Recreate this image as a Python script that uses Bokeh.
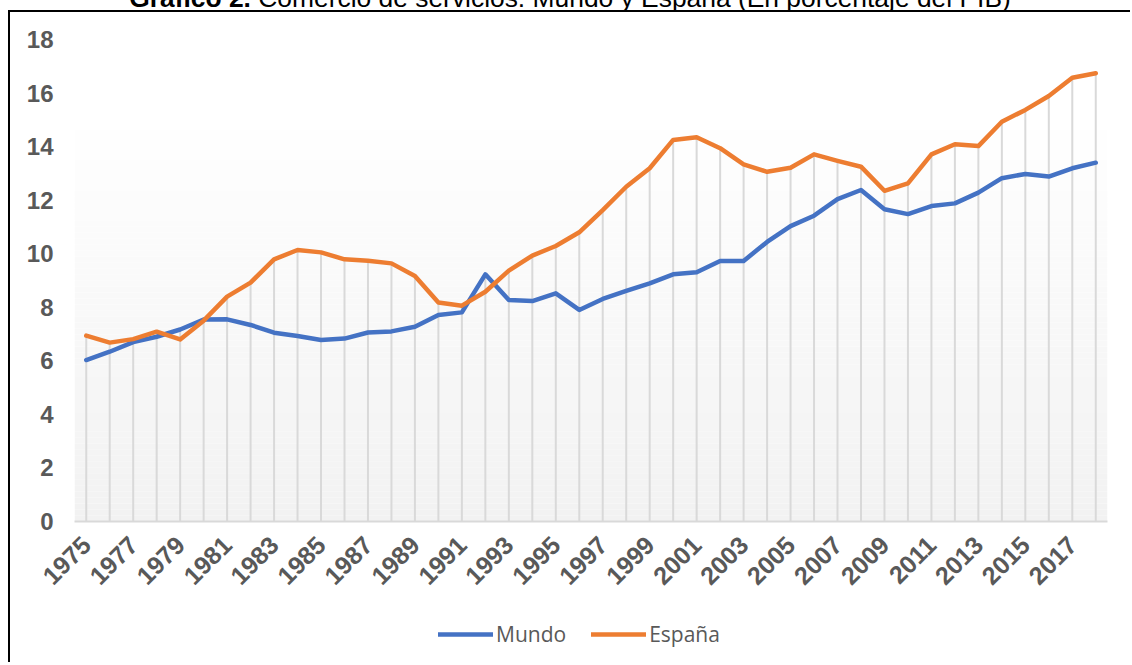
from bokeh.plotting import figure
from bokeh.models import Div, Legend, LegendItem, FixedTicker, Range1d
from bokeh.layouts import column
from bokeh.embed import file_html
from bokeh.resources import INLINE

years = list(range(1975, 2019))
mundo = [6.03, 6.34, 6.70, 6.90, 7.17, 7.54, 7.55, 7.34, 7.05, 6.93,
         6.78, 6.83, 7.06, 7.10, 7.27, 7.71, 7.81, 9.23, 8.27, 8.23,
         8.52, 7.90, 8.31, 8.61, 8.89, 9.23, 9.31, 9.73, 9.73, 10.44,
         11.03, 11.42, 12.04, 12.38, 11.66, 11.48, 11.78, 11.88, 12.28, 12.82,
         12.98, 12.88, 13.19, 13.40]
espana = [6.94, 6.68, 6.81, 7.09, 6.80, 7.50, 8.40, 8.92, 9.79, 10.14,
          10.05, 9.79, 9.74, 9.64, 9.17, 8.18, 8.06, 8.58, 9.37, 9.93,
          10.29, 10.80, 11.63, 12.50, 13.19, 14.25, 14.35, 13.94, 13.34, 13.06,
          13.21, 13.71, 13.47, 13.25, 12.35, 12.63, 13.71, 14.09, 14.02, 14.93,
          15.37, 15.89, 16.57, 16.74]
x_ticks = list(range(1975, 2019, 2))
y_ticks = list(range(0, 20, 2))
series_names = ["Mundo", "España"]
title_html = "<b>Gráfico 2.</b> Comercio de servicios. Mundo y España (En porcentaje del PIB)"

GREY = "#595959"
BLUE = "#4472C4"
ORANGE = "#ED7D31"
NAN = float("nan")

xmin, xmax = years[0] - 0.5, years[-1] + 0.5
ymin, ymax = 0, 18

p = figure(width=1122, height=594, output_backend="svg", toolbar_location=None,
           x_range=Range1d(xmin, xmax), y_range=Range1d(ymin, ymax),
           min_border_left=64, min_border_right=25, min_border_top=27,
           min_border_bottom=85)
p.styles = {"border-left": "2px solid black", "border-top": "2px solid black",
            "margin-left": "8px"}
p.background_fill_color = "white"
p.border_fill_color = "white"
p.outline_line_color = None
p.grid.visible = False

# gradient background (white at top -> light grey at bottom)
n = 80
bottoms, tops, cols = [], [], []
for i in range(n):
    b = ymin + (ymax - ymin) * i / n
    t = ymin + (ymax - ymin) * (i + 1) / n
    f = (i + 0.5) / n  # 0 bottom -> 1 top
    g = 242 + (255 - 242) * min(1.0, f / 0.85)
    g = int(round(min(255, g)))
    bottoms.append(b); tops.append(t); cols.append("#%02x%02x%02x" % (g, g, g))
p.quad(left=xmin, right=xmax, bottom=bottoms, top=tops, fill_color=cols,
       line_color=None)

# drop lines
tops_drop = [max(a, b) for a, b in zip(mundo, espana)]
p.segment(x0=years, y0=0, x1=years, y1=tops_drop, line_color="#d9d9d9",
          line_width=2)

p.line(years, mundo, line_color=BLUE, line_width=4.5, line_join="round",
       line_cap="round")
p.line(years, espana, line_color=ORANGE, line_width=4.5, line_join="round",
       line_cap="round")

p.xaxis.ticker = FixedTicker(ticks=x_ticks)
p.yaxis.ticker = FixedTicker(ticks=y_ticks)
for ax in (p.xaxis, p.yaxis):
    ax.major_tick_line_color = None
    ax.minor_tick_line_color = None
    ax.major_label_text_font = "Liberation Sans"
    ax.major_label_text_font_style = "bold"
    ax.major_label_text_font_size = "24px"
    ax.major_label_text_color = GREY
p.xaxis.major_label_text_font_size = "25px"
p.yaxis.axis_line_color = None
p.yaxis.major_label_standoff = 15
p.xaxis.axis_line_color = "#d9d9d9"
p.xaxis.axis_line_width = 2
p.xaxis.major_label_orientation = 0.7854
p.xaxis.major_label_standoff = 13

# legend strip below the chart
pl = figure(width=1122, height=58, output_backend="svg", toolbar_location=None,
            x_axis_type=None, y_axis_type=None,
            x_range=Range1d(0, 1), y_range=Range1d(0, 1),
            min_border_left=0, min_border_right=0, min_border_top=0,
            min_border_bottom=0)
pl.styles = {"border-left": "2px solid black", "margin-left": "8px"}
pl.outline_line_color = None
pl.grid.visible = False
l1 = pl.line(x=[NAN], y=[NAN], line_color=BLUE, line_width=4.5, line_cap="round")
l2 = pl.line(x=[NAN], y=[NAN], line_color=ORANGE, line_width=4.5, line_cap="round")
legend = Legend(items=[LegendItem(label=series_names[0], renderers=[l1]),
                       LegendItem(label=series_names[1], renderers=[l2])],
                orientation="horizontal", location=(364, 14),
                glyph_width=55, glyph_height=24, label_standoff=3, spacing=25,
                padding=0, margin=0, border_line_color=None,
                background_fill_alpha=0,
                label_text_font="Open Sans", label_text_font_size="21px",
                label_text_color=GREY)
pl.add_layout(legend, "center")

title = Div(text=title_html, width=1124, height=20,
            styles={"margin-top": "-15px", "margin-left": "8px",
                    "font-family": "Liberation Sans",
                    "font-size": "26.4px", "line-height": "26px",
                    "text-align": "center", "color": "black",
                    "white-space": "nowrap"})

layout = column(title, p, pl, spacing=0)
open("out.html", "w").write(file_html(layout, INLINE))
